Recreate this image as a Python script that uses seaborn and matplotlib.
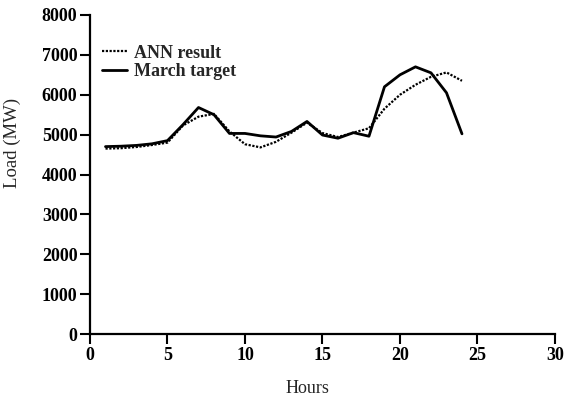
import matplotlib
matplotlib.use("Agg")
import matplotlib.pyplot as plt
import seaborn as sns
import pandas as pd

# Hourly load for one March day
hours = list(range(1, 25))
ann_result = [4650, 4660, 4690, 4740, 4800, 5230, 5450, 5520, 5080, 4760,
              4680, 4820, 5050, 5300, 5040, 4940, 5050, 5160, 5650, 6000,
              6250, 6450, 6560, 6350]
march_target = [4700, 4710, 4730, 4770, 4850, 5250, 5680, 5500, 5030, 5030,
                4970, 4940, 5080, 5330, 4990, 4910, 5050, 4960, 6200, 6500,
                6700, 6550, 6050, 5020]

x_ticks = [0, 5, 10, 15, 20, 25, 30]
y_ticks = [0, 1000, 2000, 3000, 4000, 5000, 6000, 7000, 8000]

df = pd.DataFrame({"Hours": hours, "ANN result": ann_result,
                   "March target": march_target})

sns.set_theme(style="ticks")
plt.rcParams["font.family"] = ["Liberation Serif", "DejaVu Serif"]

fig = plt.figure(figsize=(5.67, 4.01), dpi=100)
ax = fig.add_axes([0.1587, 0.167, 0.8201, 0.7956])

sns.lineplot(data=df, x="Hours", y="ANN result", ax=ax, color="black",
             linewidth=1.6, linestyle=(0, (1, 0.7)), label="ANN result")
sns.lineplot(data=df, x="Hours", y="March target", ax=ax, color="black",
             linewidth=2.0, label="March target")

ax.set_xlim(0, 30)
ax.set_ylim(0, 8000)
ax.set_xticks(x_ticks)
ax.set_yticks(y_ticks)
ax.tick_params(direction="out", length=7, width=1.5, colors="black",
               labelsize=13, pad=2)
for lbl in ax.get_xticklabels() + ax.get_yticklabels():
    lbl.set_fontweight("bold")

for side in ["top", "right"]:
    ax.spines[side].set_visible(False)
for side in ["left", "bottom"]:
    ax.spines[side].set_linewidth(1.6)
    ax.spines[side].set_color("black")

ax.set_xlabel("Hours", fontsize=13)
ax.set_ylabel("Load (MW)", fontsize=13.5)
ax.xaxis.set_label_coords(0.467, -0.145)
ax.yaxis.set_label_coords(-0.148, 0.60)

leg = ax.legend(loc="upper left", bbox_to_anchor=(0.01, 0.93), frameon=False,
                handlelength=1.4, handletextpad=0.4, labelspacing=0.1,
                borderaxespad=0, prop={"size": 13, "weight": "bold"})

fig.savefig("out.png", dpi=100)
